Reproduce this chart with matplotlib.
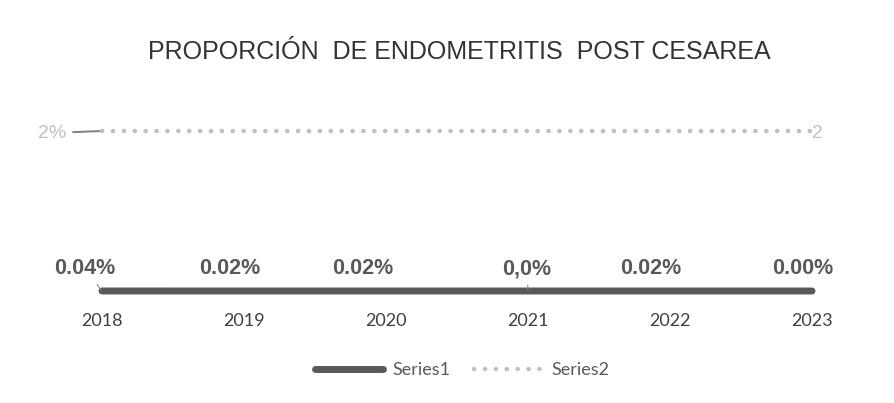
import matplotlib
matplotlib.use("Agg")
import matplotlib.pyplot as plt

# Data
years = ["2018", "2019", "2020", "2021", "2022", "2023"]
series1 = [0.0004, 0.0002, 0.0002, 0.0, 0.0002, 0.0]
series1_labels = ["0.04%", "0.02%", "0.02%", "0,0%", "0.02%", "0.00%"]
series2 = [2, 2, 2, 2, 2, 2]
series2_first_label = "2%"
series2_last_label = "2"
title = "PROPORCIÓN  DE ENDOMETRITIS  POST CESAREA"

# label placement (pixels relative to the point)
label_dx = [-17, -14, -23, -1, -19, -9]
label_dy = 22

dark = "#595959"
light = "#BFBFBF"

fig = plt.figure(figsize=(8.95, 4.03), dpi=100)
ax = fig.add_axes([102 / 895, 112 / 403, 710 / 895, 160 / 403])
x = list(range(len(years)))

ax.plot(x, series1, color=dark, lw=5, solid_capstyle="round", label="Series1", clip_on=False)
ax.plot(x, series2, color=light, lw=3.2, linestyle=(0, (0.05, 2.4)),
        dash_capstyle="round", label="Series2", clip_on=False)

ax.set_xlim(0, 5)
ax.set_ylim(0, 2)
for s in ax.spines.values():
    s.set_visible(False)
ax.set_yticks([])
ax.set_xticks(x)
ax.set_xticklabels(years, fontsize=13, color="#404040", family="Lato")
ax.tick_params(axis="x", length=0, pad=16)

# data labels for Series1
for i, (v, lab) in enumerate(zip(series1, series1_labels)):
    leader = None
    if i in (0, 3):
        leader = dict(arrowstyle="-", color="#8c8c8c", lw=0.8, shrinkA=2, shrinkB=1)
    ax.annotate(lab, (x[i], v), xytext=(label_dx[i], label_dy), textcoords="offset pixels",
                ha="center", va="center", fontsize=15.5, fontweight="bold", color=dark,
                family="Liberation Sans", arrowprops=leader)

# data labels for Series2
ax.annotate(series2_first_label, (x[0], series2[0]), xytext=(-50, -2), textcoords="offset pixels",
            ha="center", va="center", fontsize=14, color=light, family="Liberation Sans",
            arrowprops=dict(arrowstyle="-", color="#7f7f7f", lw=1.4, shrinkA=3, shrinkB=2))
ax.annotate(series2_last_label, (x[-1], series2[-1]), xytext=(5, -2), textcoords="offset pixels",
            ha="center", va="center", fontsize=14, color=light, family="Liberation Sans")

fig.text(459 / 895, 1 - 52 / 403, title, ha="center", va="center",
         fontsize=18, color="#333333", family="Liberation Sans")

fig.legend(loc="center", bbox_to_anchor=(462 / 895, 1 - 370 / 403), ncol=2, frameon=False,
           handlelength=3.8, columnspacing=1.3, handletextpad=0.5,
           prop=dict(family="Lato", size=13), labelcolor=dark)

fig.savefig("out.png", dpi=100, facecolor="white")
